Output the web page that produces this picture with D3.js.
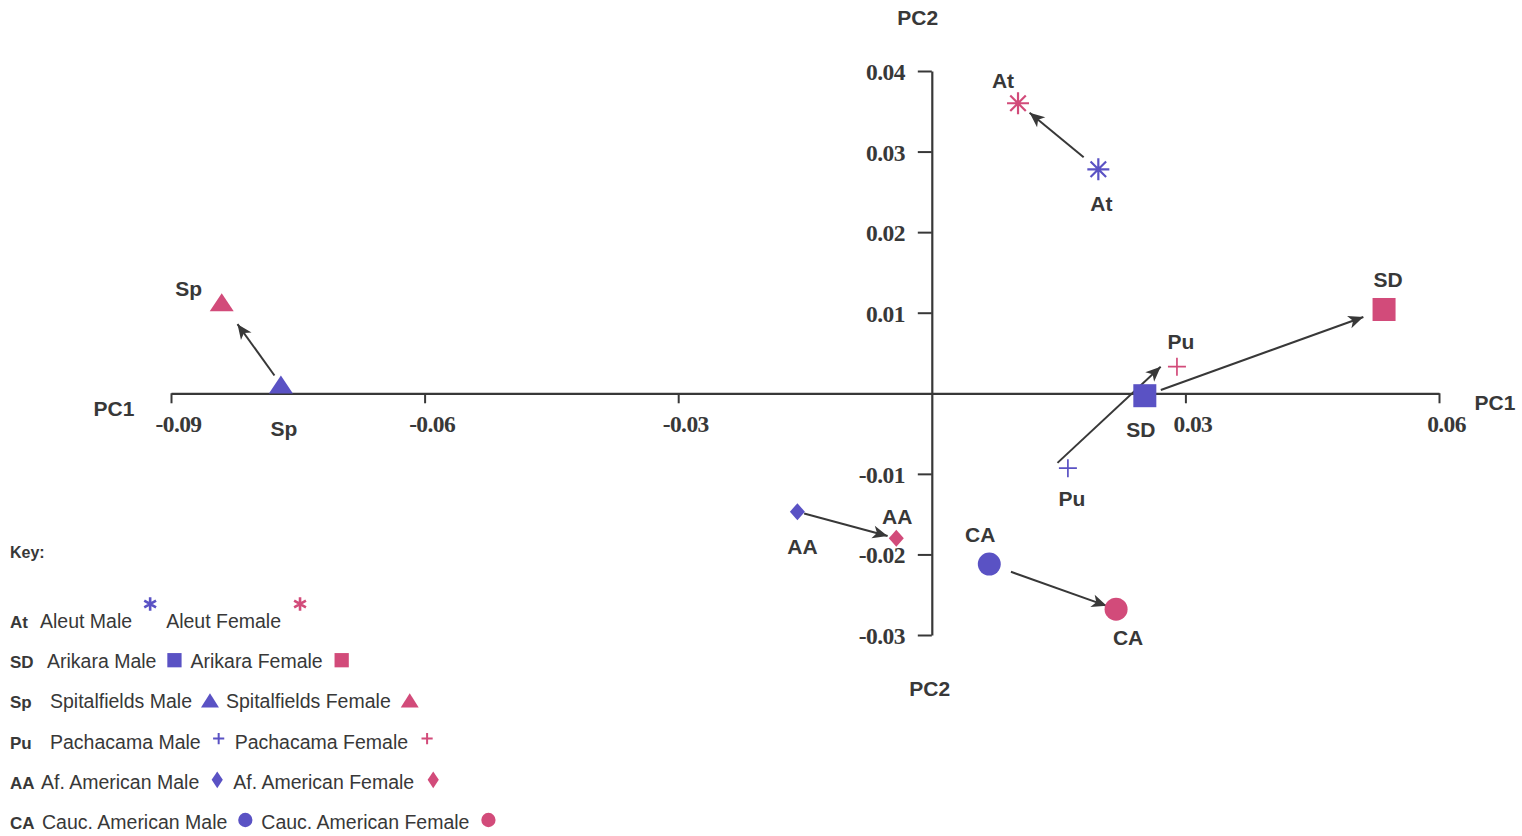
<!DOCTYPE html>
<html>
<head>
<meta charset="utf-8">
<script src="https://cdn.jsdelivr.net/npm/d3@7"></script>
<style>
  html, body { margin: 0; padding: 0; background: #fff; }
  svg { display: block; }
</style>
</head>
<body>
<svg id="chart" width="1522" height="836"></svg>
<script>
// ---------- data ----------
const groupNames = ["Aleut", "Arikara", "Spitalfields", "Pachacama", "Af. American", "Cauc. American"];
const groupCodes = ["At", "SD", "Sp", "Pu", "AA", "CA"];
const groupSymbols = ["asterisk", "square", "triangle", "plus", "diamond", "circle"];
const maleX   = [0.0197, 0.0252, -0.0770, 0.0161, -0.0159, 0.0068];
const maleY   = [0.0278, -0.0003, 0.0011, -0.0093, -0.0147, -0.0212];
const femaleX = [0.0102, 0.0535, -0.0840, 0.0290, -0.0042, 0.0218];
const femaleY = [0.0360, 0.0104, 0.0113, 0.0033, -0.0180, -0.0268];
const xTickValues = [-0.09, -0.06, -0.03, 0.03, 0.06];
const yTickValues = [0.04, 0.03, 0.02, 0.01, -0.01, -0.02, -0.03];
const xAxisTitle = "PC1";
const yAxisTitle = "PC2";
const keyTitle = "Key:";

// ---------- style / layout ----------
const MALE = "#5a52c4";
const FEMALE = "#d24b7a";
const INK = "#383838";
const maleLabelOff   = [[3, 34], [-4, 34], [3, 44], [4, 30], [5, 35], [-9, -30]];
const femaleLabelOff = [[-15, -23], [4, -30], [-33, -14], [4, -25], [1, -22], [12, 28]];
const arrowStartGap = [19, 17, 11, -4, 7, 23];
const arrowEndGap   = [15, 22, 27, 12, 9, 10];
const arrowShift    = [0, 0, 0, 11, 0, 0];
const legendNameX   = [40, 47, 50, 50, 41, 42];

const svg = d3.select("#chart");
const x = d3.scaleLinear().domain([-0.09, 0.06]).range([171, 1439]);
const y = d3.scaleLinear().domain([-0.03, 0.04]).range([635, 71]);

// symbol drawing
function drawSymbol(g, type, color, s, legend) {
  if (type === "square") {
    const h = 11.5 * s;
    g.append("rect").attr("x", -h).attr("y", -h).attr("width", 2 * h).attr("height", 2 * h).attr("fill", color);
  } else if (type === "triangle") {
    const w = (legend ? 29 : 24) * s, h = (legend ? 23 : 18) * s;
    g.append("path").attr("d", `M0,${-h / 2} L${w / 2},${h / 2} L${-w / 2},${h / 2} Z`).attr("fill", color);
  } else if (type === "diamond") {
    const hw = (legend ? 9 : 7.5) * s, hh = (legend ? 13.5 : 8.5) * s;
    g.append("path").attr("d", `M0,${-hh} L${hw},0 L0,${hh} L${-hw},0 Z`).attr("fill", color);
  } else if (type === "circle") {
    g.append("circle").attr("r", 11.5 * s).attr("fill", color);
  } else if (type === "plus") {
    const a = 9 * s;
    g.append("path").attr("d", `M${-a},0 L${a},0 M0,${-a} L0,${a}`)
      .attr("stroke", color).attr("stroke-width", legend ? 2 : 1.7).attr("fill", "none");
  } else if (type === "asterisk") {
    const r = 11 * s;
    let d = "";
    const n = legend ? 6 : 8;
    for (let k = 0; k < n / 2; k++) {
      const ang = Math.PI * k / (n / 2) + (n === 6 ? Math.PI / 2 : 0);
      d += `M${r * Math.cos(ang)},${r * Math.sin(ang)} L${-r * Math.cos(ang)},${-r * Math.sin(ang)} `;
    }
    g.append("path").attr("d", d).attr("stroke", color).attr("stroke-width", legend ? 2.6 : 2.2).attr("fill", "none");
  }
}

// arrowhead marker
const defs = svg.append("defs");
defs.append("marker")
  .attr("id", "arrow")
  .attr("viewBox", "-16 -7 17 14")
  .attr("refX", 0).attr("refY", 0)
  .attr("markerUnits", "userSpaceOnUse")
  .attr("markerWidth", 17).attr("markerHeight", 14)
  .attr("orient", "auto")
  .append("path")
  .attr("d", "M0,0 L-15,-6.5 L-11,0 L-15,6.5 Z")
  .attr("fill", INK);

// ---------- axes ----------
const axisFont = "'Liberation Serif', 'Times New Roman', serif";
const xAxisG = svg.append("g")
  .attr("transform", `translate(0,${y(0)})`)
  .call(d3.axisBottom(x).tickValues(xTickValues).tickSize(10).tickSizeOuter(0).tickPadding(12)
    .tickFormat(d => d.toFixed(2)));
const yAxisG = svg.append("g")
  .attr("transform", `translate(${x(0)},0)`)
  .call(d3.axisLeft(y).tickValues(yTickValues).tickSize(14).tickSizeOuter(0).tickPadding(13)
    .tickFormat(d => d.toFixed(2)));

[xAxisG, yAxisG].forEach(g => {
  g.select(".domain").attr("stroke", INK).attr("stroke-width", 2.2);
  g.selectAll(".tick line").attr("stroke", INK).attr("stroke-width", 2);
  g.selectAll(".tick text")
    .attr("fill", INK)
    .style("font-family", axisFont)
    .style("font-weight", "bold")
    .style("font-size", "23.5px")
    .style("letter-spacing", "-0.6px");
});
xAxisG.selectAll(".tick text").attr("dx", 7);
yAxisG.selectAll(".tick text").attr("dy", "0.36em");

// axis titles
const titleStyle = sel => sel.attr("fill", INK)
  .style("font-family", "'Liberation Sans', Arial, sans-serif")
  .style("font-weight", "bold").style("font-size", "21px")
  .attr("text-anchor", "middle").attr("dominant-baseline", "central");
svg.append("text").attr("x", x(0) - 14).attr("y", y(0.04) - 54).text(yAxisTitle).call(titleStyle);
svg.append("text").attr("x", x(0) - 2).attr("y", y(-0.03) + 53).text(yAxisTitle).call(titleStyle);
svg.append("text").attr("x", x(-0.09) - 57).attr("y", y(0) + 15).text(xAxisTitle).call(titleStyle);
svg.append("text").attr("x", x(0.06) + 56).attr("y", y(0) + 9).text(xAxisTitle).call(titleStyle);

// ---------- arrows ----------
const pairs = groupCodes.map((c, i) => ({
  code: c, sym: groupSymbols[i], i,
  mx: x(maleX[i]), my: y(maleY[i]), fx: x(femaleX[i]), fy: y(femaleY[i])
}));

svg.append("g").selectAll("line").data(pairs).join("line")
  .each(function (p) {
    const dx = p.fx - p.mx, dy = p.fy - p.my, L = Math.hypot(dx, dy);
    const ux = dx / L, uy = dy / L;
    const nx = uy * arrowShift[p.i], ny = -ux * arrowShift[p.i];
    d3.select(this)
      .attr("x1", p.mx + nx + ux * arrowStartGap[p.i]).attr("y1", p.my + ny + uy * arrowStartGap[p.i])
      .attr("x2", p.fx + nx - ux * arrowEndGap[p.i]).attr("y2", p.fy + ny - uy * arrowEndGap[p.i]);
  })
  .attr("stroke", INK).attr("stroke-width", 2)
  .attr("marker-end", "url(#arrow)");

// ---------- points ----------
const ptG = svg.append("g");
pairs.forEach(p => {
  drawSymbol(ptG.append("g").attr("transform", `translate(${p.mx},${p.my})`), p.sym, MALE, 1, false);
  drawSymbol(ptG.append("g").attr("transform", `translate(${p.fx},${p.fy})`), p.sym, FEMALE, 1, false);
});

// point labels
const labStyle = sel => sel.attr("fill", INK)
  .style("font-family", "'Liberation Sans', Arial, sans-serif")
  .style("font-weight", "bold").style("font-size", "21px")
  .attr("text-anchor", "middle").attr("dominant-baseline", "central");
pairs.forEach(p => {
  svg.append("text").attr("x", p.mx + maleLabelOff[p.i][0]).attr("y", p.my + maleLabelOff[p.i][1]).text(p.code).call(labStyle);
  svg.append("text").attr("x", p.fx + femaleLabelOff[p.i][0]).attr("y", p.fy + femaleLabelOff[p.i][1]).text(p.code).call(labStyle);
});

// ---------- legend ----------
const lg = svg.append("g").style("font-family", "'Liberation Sans', Arial, sans-serif");
lg.append("text").attr("x", 10).attr("y", 558).text(keyTitle)
  .attr("fill", INK).style("font-weight", "bold").style("font-size", "16px");

const rowY0 = 628, rowStep = 40.2;
const symOffY = { asterisk: -24, square: -8, triangle: -8, plus: -10, diamond: -9, circle: -9 };
groupCodes.forEach((c, i) => {
  const by = rowY0 + i * rowStep;
  lg.append("text").attr("x", 10).attr("y", by).text(c)
    .attr("fill", INK).style("font-weight", "bold").style("font-size", "17px");
  const t1 = lg.append("text").attr("x", legendNameX[i]).attr("y", by).text(groupNames[i] + " Male")
    .attr("fill", INK).style("font-size", "19.5px");
  const e1 = legendNameX[i] + t1.node().getComputedTextLength();
  const m1 = e1 + 18;
  drawSymbol(lg.append("g").attr("transform", `translate(${m1},${by + symOffY[groupSymbols[i]]})`), groupSymbols[i], MALE, 0.62, true);
  const fx = m1 + 16;
  const t2 = lg.append("text").attr("x", fx).attr("y", by).text(groupNames[i] + " Female")
    .attr("fill", INK).style("font-size", "19.5px");
  const m2 = fx + t2.node().getComputedTextLength() + 19;
  drawSymbol(lg.append("g").attr("transform", `translate(${m2},${by + symOffY[groupSymbols[i]]})`), groupSymbols[i], FEMALE, 0.62, true);
});
</script>
</body>
</html>
